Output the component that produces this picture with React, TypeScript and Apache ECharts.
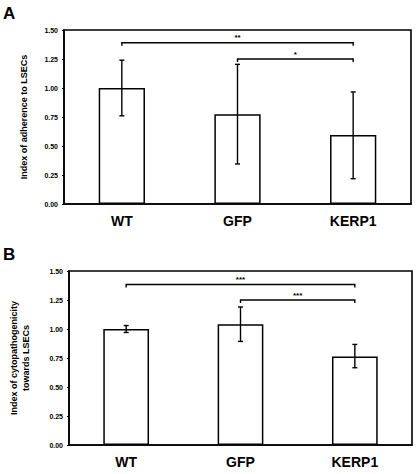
import React, { useEffect, useRef } from "react";
import * as echarts from "echarts";

const categories = ["WT", "GFP", "KERP1"];
const yTicks = [0, 0.25, 0.5, 0.75, 1.0, 1.25, 1.5];

const meanA = [1.0, 0.773, 0.595];
const lowA = [0.76, 0.345, 0.218];
const highA = [1.24, 1.204, 0.966];
// brackets: [from index, to index, height]
const bracketsA = [
  [0, 2, 1.39],
  [1, 2, 1.25],
];
const starsA = ["**", "*"];

const meanB = [1.0, 1.04, 0.764];
const lowB = [0.97, 0.893, 0.666];
const highB = [1.03, 1.19, 0.867];
const bracketsB = [
  [0, 2, 1.383],
  [1, 2, 1.25],
];
const starsB = ["***", "***"];

const FONT = "Liberation Sans, Arial, sans-serif";

export default function App() {
  const ref = useRef<HTMLDivElement>(null);
  useEffect(() => {
    document.body.style.margin = "0";
    const chart = echarts.init(ref.current!, null, { renderer: "svg" });

    const errRender = (params: any, api: any) => {
      const lo = api.coord([api.value(0), api.value(1)]);
      const hi = api.coord([api.value(0), api.value(2)]);
      const cw = 2.5;
      const st = { stroke: "#000", lineWidth: 1.4 };
      return {
        type: "group",
        children: [
          { type: "line", shape: { x1: lo[0], y1: lo[1], x2: hi[0], y2: hi[1] }, style: st },
          { type: "line", shape: { x1: lo[0] - cw, y1: lo[1], x2: lo[0] + cw, y2: lo[1] }, style: st },
          { type: "line", shape: { x1: hi[0] - cw, y1: hi[1], x2: hi[0] + cw, y2: hi[1] }, style: st },
        ],
      };
    };

    const bracketRender = (stars: string[]) => (params: any, api: any) => {
      const a = api.coord([api.value(0), api.value(2)]);
      const b = api.coord([api.value(1), api.value(2)]);
      const t = 3;
      return {
        type: "group",
        children: [
          {
            type: "polyline",
            shape: { points: [[a[0], a[1] + t], [a[0], a[1]], [b[0], b[1]], [b[0], b[1] + t]] },
            style: { stroke: "#000", lineWidth: 1.4, fill: "none" },
          },
          {
            type: "text",
            x: (a[0] + b[0]) / 2,
            y: a[1] - 1,
            style: {
              text: stars[params.dataIndex],
              textAlign: "center",
              textVerticalAlign: "bottom",
              font: `bold 8px ${FONT}`,
              fill: "#000",
            },
          },
        ],
      };
    };

    const mkX = (gi: number) => ({
      type: "category",
      gridIndex: gi,
      data: categories,
      axisLine: { lineStyle: { color: "#000", width: 1.6 } },
      axisTick: { show: false },
      axisLabel: { color: "#000", fontSize: 14, fontWeight: "bold", fontFamily: FONT, margin: 10 },
    });
    const mkY = (gi: number, name: string, gap: number) => ({
      type: "value",
      gridIndex: gi,
      min: 0,
      max: 1.5,
      interval: 0.25,
      name,
      nameLocation: "middle",
      nameGap: gap,
      nameTextStyle: { color: "#000", fontSize: 9, fontWeight: "bold", fontFamily: FONT, lineHeight: 12 },
      splitLine: { show: false },
      axisLine: { show: true, lineStyle: { color: "#000", width: 1.6 } },
      axisTick: { show: true, length: 2, lineStyle: { color: "#000", width: 1.2 } },
      axisLabel: {
        color: "#000",
        fontSize: 7,
        fontWeight: "bold",
        fontFamily: FONT,
        margin: 6,
        formatter: (v: number) => v.toFixed(2),
      },
    });

    const barStyle = { color: "#fff", borderColor: "#000", borderWidth: 1.5 };

    chart.setOption({
      animation: false,
      graphic: [
        { type: "text", left: 3, top: 5, style: { text: "A", font: `bold 17px ${FONT}`, fill: "#000" } },
        { type: "text", left: 3, top: 246, style: { text: "B", font: `bold 17px ${FONT}`, fill: "#000" } },
      ],
      grid: [
        { left: 64, top: 30, width: 347, height: 174, show: true, borderColor: "#000", borderWidth: 1.6, backgroundColor: "transparent" },
        { left: 64, top: 271, width: 348, height: 174, show: true, borderColor: "#000", borderWidth: 1.6, backgroundColor: "transparent" },
      ],
      xAxis: [mkX(0), mkX(1)],
      yAxis: [
        mkY(0, "Index of adherence to LSECs", 34),
        mkY(1, "Index of cytopathogenicity\ntowards LSECs", 37),
      ],
      series: [
        { type: "bar", xAxisIndex: 0, yAxisIndex: 0, data: meanA, barWidth: "40%", itemStyle: barStyle },
        {
          type: "custom",
          xAxisIndex: 0,
          yAxisIndex: 0,
          renderItem: errRender,
          data: categories.map((_, i) => [i, lowA[i], highA[i]]),
          encode: { x: 0, y: [1, 2] },
          z: 5,
        },
        {
          type: "custom",
          xAxisIndex: 0,
          yAxisIndex: 0,
          renderItem: bracketRender(starsA),
          data: bracketsA,
          encode: { x: [0, 1], y: 2 },
          z: 5,
        },
        { type: "bar", xAxisIndex: 1, yAxisIndex: 1, data: meanB, barWidth: "40%", itemStyle: barStyle },
        {
          type: "custom",
          xAxisIndex: 1,
          yAxisIndex: 1,
          renderItem: errRender,
          data: categories.map((_, i) => [i, lowB[i], highB[i]]),
          encode: { x: 0, y: [1, 2] },
          z: 5,
        },
        {
          type: "custom",
          xAxisIndex: 1,
          yAxisIndex: 1,
          renderItem: bracketRender(starsB),
          data: bracketsB,
          encode: { x: [0, 1], y: 2 },
          z: 5,
        },
      ],
    });
    return () => chart.dispose();
  }, []);
  return <div ref={ref} style={{ width: 417, height: 474 }} />;
}
